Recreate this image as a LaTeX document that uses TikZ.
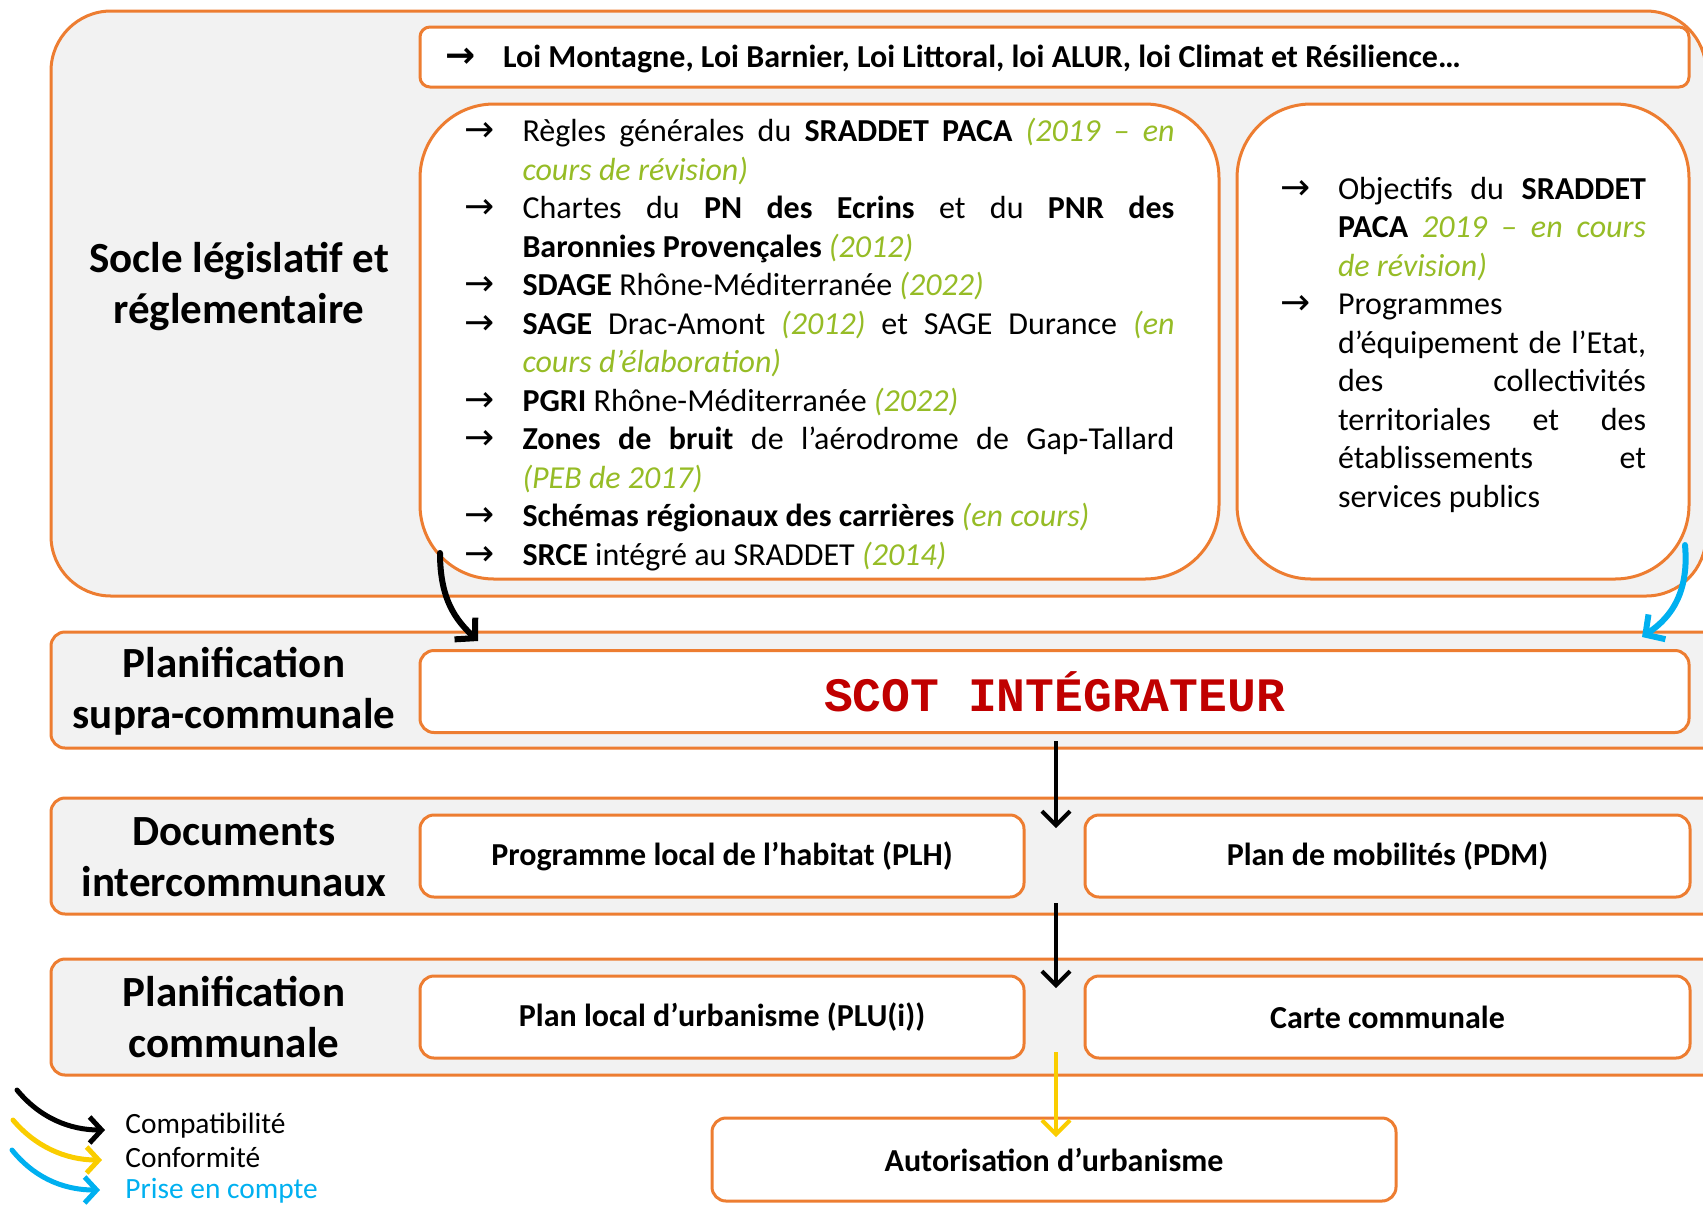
\documentclass[tikz,border=0pt]{standalone}
\usepackage{fontspec}
\setmainfont{Carlito}
\newfontfamily\scotfont{Liberation Mono}
\newfontfamily\symbfont{DejaVu Sans}
\usetikzlibrary{arrows.meta,positioning}

\definecolor{orangebord}{HTML}{ED7D31}
\definecolor{fondgris}{HTML}{F2F2F2}
\definecolor{rougescot}{HTML}{C00000}
\definecolor{vertdate}{RGB}{150,188,38}
\definecolor{bleupec}{HTML}{00B0F0}
\definecolor{jauneconf}{RGB}{250,205,0}

\newcommand{\corps}{\fontsize{16}{19.25}\selectfont}
\newcommand{\fonttitre}{\fontsize{21.5}{25.5}\selectfont\bfseries}
\newcommand{\annee}[1]{\textcolor{vertdate}{\itshape #1}}
\newcommand{\pointe}{{\symbfont\fontsize{18}{18}\selectfont →}}
\newcommand{\fleche}{\par\noindent\hangindent=29pt\hangafter=1\makebox[29pt][l]{\pointe}}

\begin{document}
\begin{tikzpicture}[x=0.5pt,y=-0.5pt,
    cadre/.style={draw=orangebord,line width=1.5pt,inner sep=0pt},
    fond/.style={cadre,fill=fondgris},
    bande/.style={fond,rounded corners=7pt,minimum width=834.5pt,minimum height=58pt},
    boite/.style={cadre,fill=white,rounded corners=7pt,minimum height=41pt,font=\corps\bfseries},
    liste/.style={cadre,fill=white,rounded corners=37pt,minimum height=237.5pt,font=\corps},
    titre/.style={font=\fonttitre,align=center},
    legende/.style={anchor=base west,inner sep=0pt,font=\fontsize{14.7}{17}\selectfont},
    compat/.style={line width=2pt,-{Straight Barb[length=7pt,width=14pt]}},
    courbe/.style={line width=3pt,line cap=round,-{Straight Barb[length=7pt,width=15pt]}},
    signe/.style={line width=2.5pt,line cap=round,-{Straight Barb[length=6pt,width=13pt]}}]
    \useasboundingbox (0,0) rectangle (1703,1206);

    \node[fond,rounded corners=30pt,minimum width=827.5pt,minimum height=292.5pt] (socle) at (878.5,303.5) {};
    \node[titre] (soclelabel) at (239,287) {Socle législatif et\\réglementaire};

    \node[cadre,fill=white,rounded corners=5pt,minimum width=634.5pt,minimum height=30pt,font=\corps\bfseries] (lois) at (1054.5,57)
      {\parbox{609.5pt}{\vspace*{2pt}\makebox[29pt][l]{\pointe}Loi Montagne, Loi Barnier, Loi Littoral, loi ALUR, loi Climat et Résilience…}};

    \node[liste,minimum width=399.5pt] (regles) at (819.5,341.5) {\parbox{355pt}{\vspace*{3pt}%
      \fleche Règles générales du \textbf{SRADDET PACA} \annee{(2019 – en\linebreak cours de révision)}
      \fleche Chartes du \textbf{PN des Ecrins} et du \textbf{PNR des\linebreak Baronnies Provençales} \annee{(2012)}
      \fleche \textbf{SDAGE} Rhône-Méditerranée \annee{(2022)}
      \fleche \textbf{SAGE} Drac-Amont \annee{(2012)} et SAGE Durance \annee{(en\linebreak cours d’élaboration)}
      \fleche \textbf{PGRI} Rhône-Méditerranée \annee{(2022)}
      \fleche \textbf{Zones de bruit} de l’aérodrome de Gap-Tallard\linebreak \annee{(PEB de 2017)}
      \fleche \textbf{Schémas régionaux des carrières} \annee{(en cours)}
      \fleche \textbf{SRCE} intégré au SRADDET \annee{(2014)}}};

    \node[liste,minimum width=226pt] (objectifs) at (1463,341.5) {\parbox{183pt}{\vspace*{3pt}%
      \fleche Objectifs du \textbf{SRADDET\linebreak PACA} \annee{2019 – en cours\linebreak de révision)}
      \fleche Programmes\newline d’équipement de l’Etat,\linebreak des collectivités\linebreak territoriales et des\linebreak établissements et\linebreak services publics}};

    \node[bande] (bande1) at (885.5,690) {};
    \node[bande] (bande2) at (885.5,856) {};
    \node[bande] (bande3) at (885.5,1017) {};

    \node[titre] (bandelabel1) at (234,691) {Planification\\supra-communale};
    \node[titre] (bandelabel2) at (234,857) {Documents\\intercommunaux};
    \node[titre] (bandelabel3) at (234,1017) {Planification\\communale};

    \node[boite,minimum width=634.5pt,font=\scotfont\bfseries\fontsize{24}{28}\selectfont,text=rougescot] (scot) at (1054.5,691.5) {SCOT INTÉGRATEUR};
    \node[boite,minimum width=302pt] (plh) at (722,856) {Programme local de l’habitat (PLH)};
    \node[boite,minimum width=302.5pt] (pdm) at (1387.5,856) {Plan de mobilités (PDM)};
    \node[boite,minimum width=302pt] (plu) at (722,1017) {Plan local d’urbanisme (PLU(i))};
    \node[boite,minimum width=302.5pt] (carte) at (1387.5,1017) {Carte communale};
    \node[boite,minimum width=342pt,minimum height=41.5pt] (autor) at (1054,1159.5) {Autorisation d’urbanisme};

    \coordinate (depart1) at (440,553);
    \coordinate (arrivee1) at (478,641);
    \coordinate (depart2) at (1685,545);
    \coordinate (arrivee2) at (1642,637);
    \coordinate (haut1) at (1056,741);
    \coordinate (bas1) at (1056,828);
    \coordinate (haut2) at (1056,903);
    \coordinate (bas2) at (1056,988);
    \coordinate (haut3) at (1056,1052);
    \coordinate (bas3) at (1056,1137);

    \draw[courbe] (depart1) .. controls (440,600) and (456,620) .. (arrivee1);
    \draw[courbe,draw=bleupec] (depart2) .. controls (1690,600) and (1664,622) .. (arrivee2);
    \draw[compat] (haut1) -- (bas1);
    \draw[compat] (haut2) -- (bas2);
    \draw[compat,draw=jauneconf] (haut3) -- (bas3);

    % legende
    \draw[signe] (17,1090) .. controls (40,1118) and (70,1130) .. (105,1130);
    \draw[signe,draw=jauneconf] (13,1120) .. controls (35,1146) and (65,1160) .. (102,1160);
    \draw[signe,draw=bleupec] (12,1150) .. controls (32,1175) and (60,1190) .. (100,1190);
    \node[legende] (legende1) at (125,1133) {Compatibilité};
    \node[legende] (legende2) at (125,1167) {Conformité};
    \node[legende,text=bleupec] (legende3) at (125,1198) {Prise en compte};
\end{tikzpicture}
\end{document}
